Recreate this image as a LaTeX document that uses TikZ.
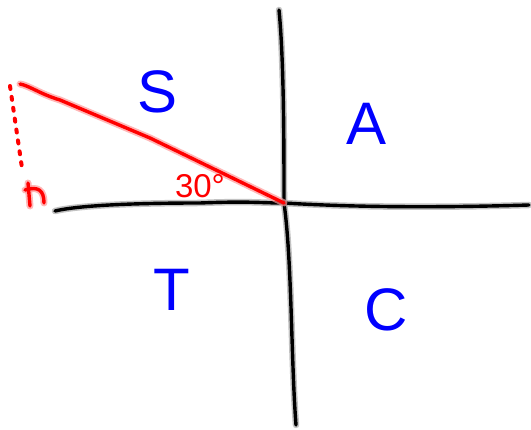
\documentclass[tikz,border=0pt]{standalone}
\usepackage{fontspec}
\setmainfont{Liberation Sans}
\usetikzlibrary{calc}
\tikzset{
  axisglow/.style={draw=black!40, line width=6.5pt, line cap=round, line join=round, opacity=0.6},
  axisline/.style={draw=black, line width=3.4pt, line cap=round, line join=round},
  redglow/.style={draw=red!40, line width=7pt, line cap=round, line join=round, opacity=0.7},
  redline/.style={draw=red, line width=3.4pt, line cap=round, line join=round},
  reddot/.style={draw=red, line width=4pt, line cap=round, dash pattern=on 3pt off 8pt},
  quad/.style={text=blue, font=\fontsize{60}{60}\selectfont, inner sep=0pt},
  anglelbl/.style={text=red, font=\fontsize{33}{33}\selectfont, inner sep=0pt}
}
\begin{document}
\begin{tikzpicture}[x=1pt,y=-1pt]
\useasboundingbox (0,0) rectangle (531,430);
% coordinates
\coordinate (vt) at (279,10);
\coordinate (vb) at (296,425);
\coordinate (hl) at (55,211);
\coordinate (hr) at (529,205);
\coordinate (o) at (284,203);
\coordinate (ptop) at (20,84);
\coordinate (dtop) at (10,86);
\coordinate (dbot) at (22,168);
% axes
\foreach \s in {axisglow,axisline}{
\draw[\s] (vt) .. controls (284,60) and (284,150) .. (o) .. controls (292,260) and (291,360) .. (vb);
\draw[\s] (hl) .. controls (80,205) and (140,203) .. (200,203) .. controls (250,201) and (260,203) .. (o) .. controls (350,207) and (430,208) .. (hr);
}
% red triangle
\foreach \s in {redglow,redline}{
\draw[\s] (ptop) .. controls (30,86) and (40,94) .. (60,100) -- (150,138) -- (o);
\draw[\s] (28,183) -- (30,206);
\draw[\s] (25,190) .. controls (38,186) and (44,190) .. (44,203);
}
\draw[reddot] (dtop) -- (dbot);
% labels
\node[anglelbl] (ang) at (200,186) {30°};
\node[quad] (S) at (158,92) {S};
\node[quad] (A) at (367,124) {A};
\node[quad] (T) at (172,290) {T};
\node[quad] (C) at (386,310) {C};
\end{tikzpicture}
\end{document}
